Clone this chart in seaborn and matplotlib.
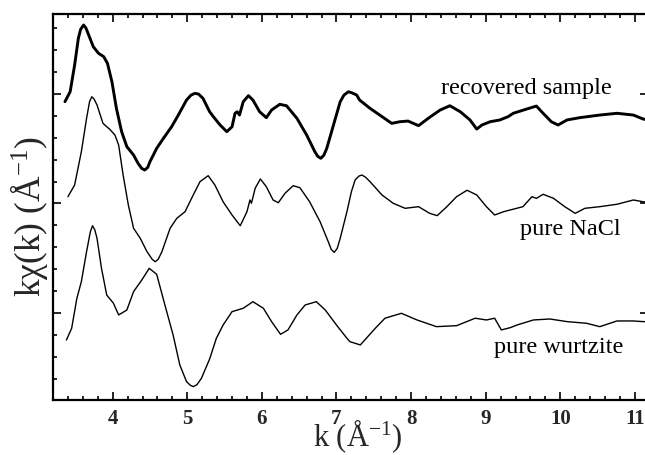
import matplotlib
matplotlib.use("Agg")
import matplotlib.pyplot as plt
from matplotlib.ticker import MultipleLocator, FixedLocator
import seaborn as sns
import pandas as pd

# ---- data (k in 1/Angstrom, k*chi(k) as plotted, offset stacked) ----
k_recovered = [3.36, 3.43, 3.49, 3.54, 3.57, 3.61, 3.64, 3.67, 3.74, 3.81, 3.88, 3.93, 3.99, 4.05,
               4.12, 4.19, 4.28, 4.34, 4.39, 4.43, 4.47, 4.50, 4.59, 4.68, 4.79, 4.88, 4.99, 5.05,
               5.10, 5.15, 5.21, 5.30, 5.35, 5.44, 5.53, 5.60, 5.64, 5.67, 5.70, 5.75, 5.82, 5.88,
               5.97, 6.06, 6.13, 6.24, 6.33, 6.47, 6.60, 6.71, 6.75, 6.79, 6.83, 6.87, 6.96, 7.05,
               7.10, 7.16, 7.21, 7.27, 7.31, 7.45, 7.58, 7.74, 7.85, 7.96, 8.10, 8.23, 8.39, 8.52,
               8.66, 8.79, 8.88, 8.95, 9.06, 9.19, 9.30, 9.37, 9.55, 9.68, 9.77, 9.88, 9.97, 10.09,
               10.26, 10.53, 10.76, 10.98, 11.11, 11.2]
v_recovered = [1.930, 2.021, 2.265, 2.509, 2.590, 2.630, 2.605, 2.554, 2.432, 2.372, 2.341, 2.280,
               2.112, 1.869, 1.656, 1.519, 1.443, 1.367, 1.320, 1.306, 1.330, 1.382, 1.504, 1.595,
               1.701, 1.808, 1.945, 1.990, 2.006, 2.000, 1.961, 1.838, 1.793, 1.717, 1.656, 1.701,
               1.824, 1.838, 1.808, 1.930, 1.985, 1.945, 1.838, 1.784, 1.854, 1.906, 1.893, 1.778,
               1.626, 1.473, 1.430, 1.413, 1.440, 1.504, 1.717, 1.930, 1.990, 2.021, 2.010, 1.991,
               1.945, 1.869, 1.808, 1.732, 1.747, 1.753, 1.711, 1.778, 1.854, 1.893, 1.838, 1.763,
               1.680, 1.717, 1.747, 1.763, 1.793, 1.824, 1.863, 1.890, 1.824, 1.747, 1.717, 1.763,
               1.784, 1.808, 1.824, 1.808, 1.772, 1.760]

k_nacl = [3.40, 3.49, 3.58, 3.65, 3.69, 3.72, 3.75, 3.79, 3.87, 3.96, 4.03, 4.08, 4.14, 4.21, 4.28,
          4.37, 4.46, 4.53, 4.57, 4.61, 4.66, 4.77, 4.86, 4.97, 5.08, 5.17, 5.28, 5.37, 5.48, 5.60,
          5.71, 5.80, 5.84, 5.86, 5.91, 5.98, 6.06, 6.15, 6.22, 6.31, 6.42, 6.51, 6.64, 6.78, 6.89,
          6.93, 6.97, 7.01, 7.05, 7.14, 7.20, 7.25, 7.30, 7.34, 7.39, 7.45, 7.61, 7.76, 7.92, 8.10,
          8.25, 8.35, 8.48, 8.61, 8.75, 8.88, 9.01, 9.12, 9.24, 9.33, 9.50, 9.62, 9.68, 9.77, 9.91,
          10.06, 10.20, 10.33, 10.53, 10.76, 10.98, 11.11, 11.2]
v_nacl = [1.062, 1.169, 1.473, 1.778, 1.930, 1.975, 1.955, 1.900, 1.732, 1.678, 1.626, 1.534,
          1.260, 0.986, 0.774, 0.682, 0.560, 0.490, 0.468, 0.490, 0.560, 0.774, 0.865, 0.925,
          1.078, 1.199, 1.254, 1.169, 1.016, 0.895, 0.797, 0.925, 1.032, 1.002, 1.139, 1.224,
          1.153, 1.032, 1.007, 1.093, 1.163, 1.144, 1.016, 0.834, 0.651, 0.580, 0.554, 0.590,
          0.682, 0.925, 1.108, 1.215, 1.250, 1.260, 1.240, 1.199, 1.078, 1.002, 0.956, 0.971,
          0.910, 0.889, 0.971, 1.062, 1.121, 1.078, 0.971, 0.895, 0.925, 0.941, 0.971, 1.062,
          1.047, 1.084, 1.047, 0.971, 0.910, 0.956, 0.971, 0.993, 1.032, 1.016, 1.010]

k_wurtzite = [3.38, 3.45, 3.52, 3.58, 3.65, 3.70, 3.73, 3.76, 3.79, 3.85, 3.92, 4.01, 4.08, 4.19,
              4.28, 4.39, 4.49, 4.59, 4.70, 4.81, 4.90, 4.99, 5.04, 5.08, 5.13, 5.19, 5.30, 5.39,
              5.48, 5.60, 5.75, 5.88, 6.02, 6.13, 6.25, 6.35, 6.47, 6.58, 6.73, 6.85, 7.00, 7.14,
              7.18, 7.32, 7.40, 7.52, 7.65, 7.87, 8.08, 8.34, 8.61, 8.86, 9.01, 9.12, 9.21, 9.33,
              9.42, 9.64, 9.86, 10.09, 10.35, 10.53, 10.76, 10.98, 11.11, 11.2]
v_wurtzite = [-0.247, -0.140, 0.134, 0.286, 0.560, 0.740, 0.797, 0.760, 0.682, 0.408, 0.164, 0.089,
              -0.018, 0.027, 0.195, 0.301, 0.408, 0.353, 0.073, -0.201, -0.475, -0.627, -0.660,
              -0.673, -0.655, -0.596, -0.420, -0.231, -0.110, 0.012, 0.043, 0.103, 0.043, -0.079,
              -0.195, -0.155, -0.018, 0.073, 0.103, 0.027, -0.110, -0.231, -0.262, -0.292, -0.231,
              -0.140, -0.048, -0.003, -0.064, -0.125, -0.116, -0.048, -0.064, -0.048, -0.155,
              -0.134, -0.110, -0.064, -0.055, -0.079, -0.094, -0.125, -0.073, -0.073, -0.079,
              -0.080]

series_names = ["recovered sample", "pure NaCl", "pure wurtzite"]
label_k = [9.55, 10.14, 9.98]
label_v = [2.0, 0.712, -0.365]

x_major = [4, 5, 6, 7, 8, 9, 10, 11]
y_major = [0, 1, 2]

# ---- style ----
sns.set_style("ticks")
plt.rcParams["font.family"] = ["Liberation Serif", "DejaVu Serif"]
plt.rcParams["mathtext.fontset"] = "custom"
plt.rcParams["mathtext.rm"] = "Liberation Serif"
plt.rcParams["mathtext.it"] = "Liberation Serif:italic"
plt.rcParams["mathtext.bf"] = "Liberation Serif:bold"

df = pd.concat([
    pd.DataFrame({"k": k_recovered, "v": v_recovered, "s": series_names[0]}),
    pd.DataFrame({"k": k_nacl, "v": v_nacl, "s": series_names[1]}),
    pd.DataFrame({"k": k_wurtzite, "v": v_wurtzite, "s": series_names[2]}),
])

fig = plt.figure(figsize=(6.45, 4.55), dpi=100)
ax = fig.add_axes([52.7 / 645, 55 / 455, (648 - 52.7) / 645, 386 / 455])

widths = {series_names[0]: 2.1, series_names[1]: 1.0, series_names[2]: 1.0}
for name in series_names:
    sub = df[df["s"] == name]
    sns.lineplot(data=sub, x="k", y="v", ax=ax, color="black", linewidth=widths[name],
                 estimator=None, sort=False, legend=False,
                 solid_joinstyle="round", solid_capstyle="round")

for name, kx, vy in zip(series_names, label_k, label_v):
    ax.text(kx, vy, name, ha="center", va="baseline", fontsize=17.5, color="black")

ax.set_xlim(3.196, 11.176)
ax.set_ylim(-0.795, 2.731)

ax.xaxis.set_major_locator(FixedLocator(x_major))
ax.xaxis.set_minor_locator(MultipleLocator(0.2))
ax.yaxis.set_major_locator(FixedLocator(y_major))
ax.yaxis.set_minor_locator(MultipleLocator(0.2))
ax.set_yticklabels([])

for sp in ax.spines.values():
    sp.set_linewidth(1.6)
    sp.set_color("black")

ax.tick_params(which="both", direction="in", top=True, right=True, color="black", width=1.2)
ax.tick_params(which="major", length=5.5)
ax.tick_params(which="minor", length=3, right=False)
ax.tick_params(axis="x", which="major", labelsize=15, pad=6.5)
for lab in ax.get_xticklabels():
    lab.set_fontweight("bold")

ax.set_xlabel("k (Å$^{\\mathregular{-1}}$)", fontsize=22)
ax.xaxis.label.set_va("baseline")
ax.xaxis.set_label_coords((357.5 - 52.7) / 595.3, (400 - 446) / 386)

ax.set_ylabel("kχ(k) (Å$^{\\mathregular{-1}}$)", fontsize=25.5)
ax.yaxis.label.set_va("center")
ax.yaxis.label.set_ha("center")
ax.yaxis.set_label_coords((29 - 52.7) / 595.3, (400 - 216.5) / 386)

fig.savefig("out.png", dpi=100)
